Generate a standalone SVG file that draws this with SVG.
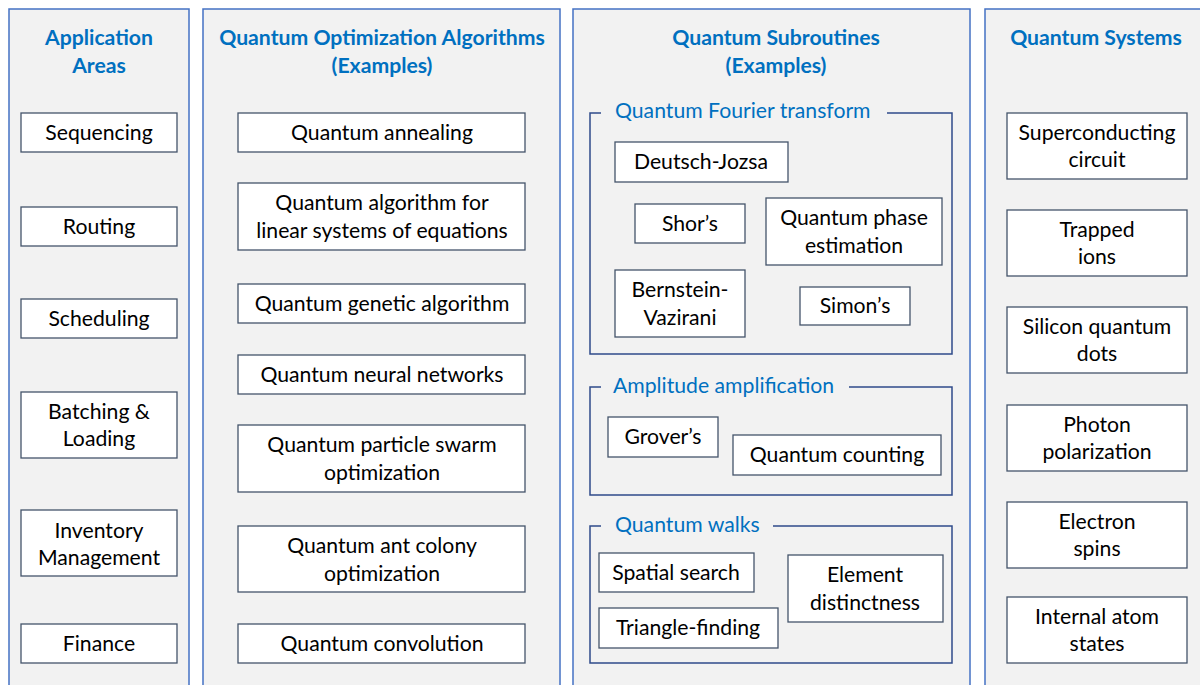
<svg xmlns="http://www.w3.org/2000/svg" width="1200" height="685" viewBox="0 0 1200 685">
<style>
.panel{fill:#f2f2f2;stroke:#4472c4;stroke-width:1.5}
.box{fill:#ffffff;stroke:#44546a;stroke-width:1.3}
.grp{fill:none;stroke:#2f4b8a;stroke-width:1.5}
.t{font-family:Lato,"Open Sans","Liberation Sans",sans-serif;font-size:21.2px;fill:#000;text-anchor:middle}
.h{font-family:Lato,"Open Sans","Liberation Sans",sans-serif;font-size:21.2px;font-weight:bold;fill:#0070c0;text-anchor:middle}
.g{font-family:Lato,"Open Sans","Liberation Sans",sans-serif;font-size:21.2px;fill:#0070c0}
</style>
<rect width="1200" height="685" fill="#ffffff"/>
<g id="panels">
<rect class="panel" x="9" y="9" width="180" height="690"/>
<rect class="panel" x="203" y="9" width="357" height="690"/>
<rect class="panel" x="573" y="9" width="397" height="690"/>
<rect class="panel" x="985" y="9" width="230" height="690"/>
<text class="h" x="99" y="45">Application</text>
<text class="h" x="99" y="73">Areas</text>
<text class="h" x="382" y="45">Quantum Optimization Algorithms</text>
<text class="h" x="382" y="73">(Examples)</text>
<text class="h" x="776" y="45">Quantum Subroutines</text>
<text class="h" x="776" y="73">(Examples)</text>
<text class="h" x="1096" y="45">Quantum Systems</text>
</g>
<g id="groups">
<path class="grp" d="M601 113 H590 V354 H952 V113 H887"/>
<text class="g" x="615" y="118">Quantum Fourier transform</text>
<path class="grp" d="M601 387 H590 V495 H952 V387 H849"/>
<text class="g" x="613" y="393">Amplitude amplification</text>
<path class="grp" d="M601 526 H590 V663 H952 V526 H773"/>
<text class="g" x="615" y="532">Quantum walks</text>
</g>
<g id="n-sequencing"><rect class="box" x="21" y="113" width="156" height="39"/><text class="t" x="99" y="140">Sequencing</text></g>
<g id="n-routing"><rect class="box" x="21" y="207" width="156" height="39"/><text class="t" x="99" y="234">Routing</text></g>
<g id="n-scheduling"><rect class="box" x="21" y="299" width="156" height="39"/><text class="t" x="99" y="326">Scheduling</text></g>
<g id="n-batching"><rect class="box" x="21" y="392" width="156" height="66"/><text class="t" x="99" y="419">Batching &amp;</text><text class="t" x="99" y="446">Loading</text></g>
<g id="n-inventory"><rect class="box" x="21" y="510" width="156" height="66"/><text class="t" x="99" y="538">Inventory</text><text class="t" x="99" y="565">Management</text></g>
<g id="n-finance"><rect class="box" x="21" y="624" width="156" height="39"/><text class="t" x="99" y="651">Finance</text></g>
<g id="n-annealing"><rect class="box" x="238" y="113" width="287" height="39"/><text class="t" x="382" y="140">Quantum annealing</text></g>
<g id="n-linear"><rect class="box" x="238" y="183" width="287" height="67"/><text class="t" x="382" y="210">Quantum algorithm for</text><text class="t" x="382" y="238">linear systems of equations</text></g>
<g id="n-genetic"><rect class="box" x="238" y="284" width="287" height="39"/><text class="t" x="382" y="311">Quantum genetic algorithm</text></g>
<g id="n-neural"><rect class="box" x="238" y="355" width="287" height="39"/><text class="t" x="382" y="382">Quantum neural networks</text></g>
<g id="n-pso"><rect class="box" x="238" y="425" width="287" height="67"/><text class="t" x="382" y="452">Quantum particle swarm</text><text class="t" x="382" y="480">optimization</text></g>
<g id="n-aco"><rect class="box" x="238" y="526" width="287" height="66"/><text class="t" x="382" y="553">Quantum ant colony</text><text class="t" x="382" y="581">optimization</text></g>
<g id="n-convolution"><rect class="box" x="238" y="624" width="287" height="39"/><text class="t" x="382" y="651">Quantum convolution</text></g>
<g id="n-dj"><rect class="box" x="615" y="142" width="173" height="40"/><text class="t" x="701" y="169">Deutsch-Jozsa</text></g>
<g id="n-shor"><rect class="box" x="635" y="204" width="110" height="39"/><text class="t" x="690" y="231">Shor’s</text></g>
<g id="n-qpe"><rect class="box" x="766" y="198" width="176" height="67"/><text class="t" x="854" y="225">Quantum phase</text><text class="t" x="854" y="253">estimation</text></g>
<g id="n-bv"><rect class="box" x="615" y="270" width="130" height="67"/><text class="t" x="680" y="297">Bernstein-</text><text class="t" x="680" y="325">Vazirani</text></g>
<g id="n-simon"><rect class="box" x="800" y="287" width="110" height="38"/><text class="t" x="855" y="313">Simon’s</text></g>
<g id="n-grover"><rect class="box" x="608" y="417" width="110" height="40"/><text class="t" x="663" y="444">Grover’s</text></g>
<g id="n-counting"><rect class="box" x="733" y="435" width="208" height="40"/><text class="t" x="837" y="462">Quantum counting</text></g>
<g id="n-spatial"><rect class="box" x="599" y="553" width="155" height="39"/><text class="t" x="676" y="580">Spatial search</text></g>
<g id="n-triangle"><rect class="box" x="599" y="608" width="179" height="40"/><text class="t" x="688" y="635">Triangle-finding</text></g>
<g id="n-element"><rect class="box" x="788" y="555" width="155" height="67"/><text class="t" x="865" y="582">Element</text><text class="t" x="865" y="610">distinctness</text></g>
<g id="n-superconducting"><rect class="box" x="1007" y="113" width="180" height="66"/><text class="t" x="1097" y="140">Superconducting</text><text class="t" x="1097" y="167">circuit</text></g>
<g id="n-trapped"><rect class="box" x="1007" y="210" width="180" height="66"/><text class="t" x="1097" y="237">Trapped</text><text class="t" x="1097" y="264">ions</text></g>
<g id="n-silicon"><rect class="box" x="1007" y="307" width="180" height="66"/><text class="t" x="1097" y="334">Silicon quantum</text><text class="t" x="1097" y="361">dots</text></g>
<g id="n-photon"><rect class="box" x="1007" y="405" width="180" height="66"/><text class="t" x="1097" y="432">Photon</text><text class="t" x="1097" y="459">polarization</text></g>
<g id="n-electron"><rect class="box" x="1007" y="502" width="180" height="66"/><text class="t" x="1097" y="529">Electron</text><text class="t" x="1097" y="556">spins</text></g>
<g id="n-atom"><rect class="box" x="1007" y="597" width="180" height="66"/><text class="t" x="1097" y="624">Internal atom</text><text class="t" x="1097" y="651">states</text></g>
<g id="connectors"></g>
</svg>
